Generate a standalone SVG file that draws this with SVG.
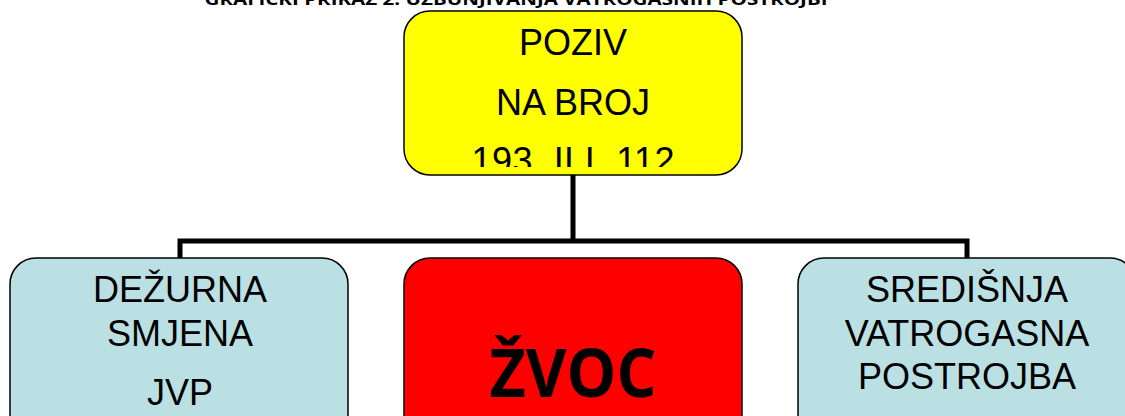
<svg xmlns="http://www.w3.org/2000/svg" width="1125" height="416" viewBox="0 0 1125 416">
<style>
.box{stroke:#000;stroke-width:1.5}
.t{font-family:"Liberation Sans",Arial,sans-serif;font-size:36px;fill:#000;text-anchor:middle}
.conn{fill:none;stroke:#000;stroke-width:5;stroke-linejoin:miter}
</style>
<defs>
<clipPath id="clipTop"><rect x="404" y="11" width="338" height="156"/></clipPath>
</defs>
<rect width="1125" height="416" fill="#fff"/>
<text id="title" x="516" y="5" font-family="'Open Sans',sans-serif" font-weight="bold" font-size="16" text-anchor="middle" textLength="623" lengthAdjust="spacingAndGlyphs">GRAFIČKI PRIKAZ 2. UZBUNJIVANJA VATROGASNIH POSTROJBI</text>
<g id="connectors">
<path class="conn" d="M573 175 V241 M180 258 V241 H967 V258"/>
</g>
<g id="node-poziv">
<rect class="box" x="404" y="11" width="338" height="164" rx="26" fill="#FFFF00"/>
<g clip-path="url(#clipTop)">
<text class="t" x="573" y="55">POZIV</text>
<text class="t" x="573" y="115">NA BROJ</text>
<text class="t" x="573" y="173" xml:space="preserve" textLength="203">193  ILI  112</text>
</g>
</g>
<g id="node-dezurna">
<rect class="box" x="10" y="258" width="338" height="190" rx="26" fill="#BBE0E3"/>
<text class="t" x="180" y="302">DEŽURNA</text>
<text class="t" x="180" y="346">SMJENA</text>
<text class="t" x="180" y="405">JVP</text>
</g>
<g id="node-zvoc">
<rect class="box" x="404" y="258" width="338" height="190" rx="26" fill="#FF0000"/>
<text x="573" y="397" font-family="'Open Sans',sans-serif" font-weight="bold" font-size="66" text-anchor="middle" textLength="167" lengthAdjust="spacingAndGlyphs">ŽVOC</text>
</g>
<g id="node-sredisnja">
<rect class="box" x="798" y="258" width="338" height="190" rx="26" fill="#BBE0E3"/>
<text class="t" x="967" y="302">SREDIŠNJA</text>
<text class="t" x="967" y="346">VATROGASNA</text>
<text class="t" x="967" y="389">POSTROJBA</text>
</g>
</svg>
